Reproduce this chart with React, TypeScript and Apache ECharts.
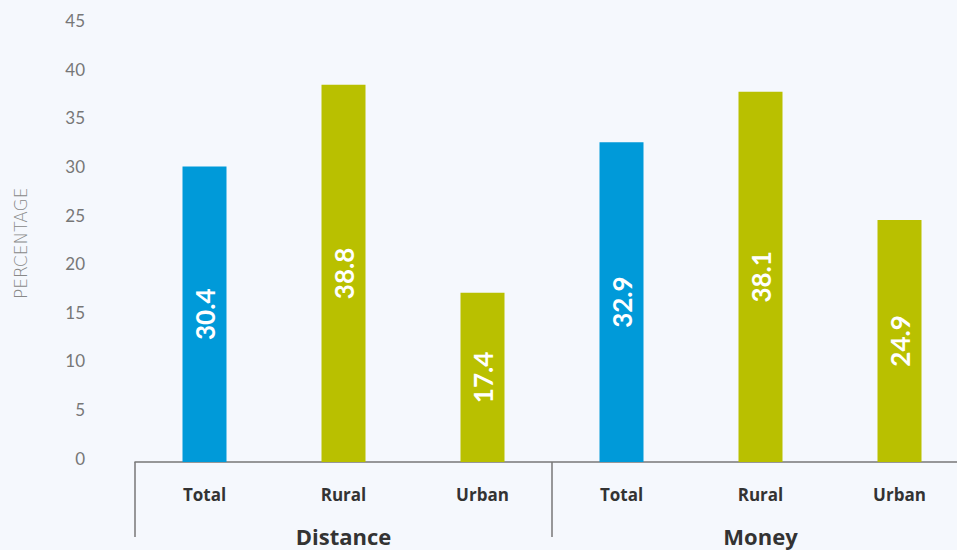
import React, { useEffect, useRef } from "react";
import * as echarts from "echarts";

const categories = ["Total", "Rural", "Urban", "Total", "Rural", "Urban"];
const groups = ["Distance", "Money"];
const values = [30.4, 38.8, 17.4, 32.9, 38.1, 24.9];
const barColors = ["#009ad9", "#b9c000", "#b9c000", "#009ad9", "#b9c000", "#b9c000"];
const yTicks = { min: 0, max: 45, interval: 5 };

export default function App() {
  const ref = useRef<HTMLDivElement>(null);
  useEffect(() => {
    document.body.style.background = "#f5f8fd";
    const chart = echarts.init(ref.current!, undefined, { renderer: "svg" });
    chart.setOption({
      animation: false,
      backgroundColor: "#f5f8fd",
      grid: { left: 135, top: 24.6, right: 0, height: 437.4, containLabel: false },
      xAxis: [
        {
          type: "category",
          data: categories,
          position: "bottom",
          axisLine: { show: true, lineStyle: { color: "#777", width: 1.5 } },
          axisTick: { show: false },
          axisLabel: { margin: 24, color: "#333", fontFamily: "Open Sans", fontWeight: "bold", fontSize: 17 },
        },
        {
          type: "category",
          data: groups,
          position: "bottom",
          axisLine: { show: false },
          axisTick: { show: true, length: 75, lineStyle: { color: "#777", width: 1.5 } },
          axisLabel: { margin: 63, color: "#333", fontFamily: "Open Sans", fontWeight: "bold", fontSize: 22, lineHeight: 22 },
        },
      ],
      yAxis: {
        type: "value",
        min: yTicks.min,
        max: yTicks.max,
        interval: yTicks.interval,
        axisLine: { show: false },
        axisTick: { show: false },
        splitLine: { show: false },
        axisLabel: {
          margin: 50,
          color: "#777",
          fontFamily: "Lato",
          fontSize: 17,
          verticalAlign: "bottom",
          lineHeight: 8,
        },
        name: "PERCENTAGE",
        nameLocation: "middle",
        nameRotate: 90,
        nameGap: 106,
        nameTextStyle: { color: "#888", fontFamily: "DejaVu Sans", fontWeight: 200, fontSize: 17 },
      },
      series: [
        {
          type: "bar",
          xAxisIndex: 0,
          barWidth: 44,
          data: values.map((v, i) => ({ value: v, itemStyle: { color: barColors[i] } })),
          label: {
            show: true,
            position: "inside",
            rotate: 90,
            color: "#fff",
            fontFamily: "Lato",
            fontWeight: "bold",
            fontSize: 26,
          },
        },
      ],
    });
    return () => chart.dispose();
  }, []);
  return (
    <div style={{ position: "fixed", left: 0, top: 0, width: 957, height: 550, overflow: "hidden" }}>
      <div ref={ref} style={{ width: 969, height: 550 }} />
    </div>
  );
}
